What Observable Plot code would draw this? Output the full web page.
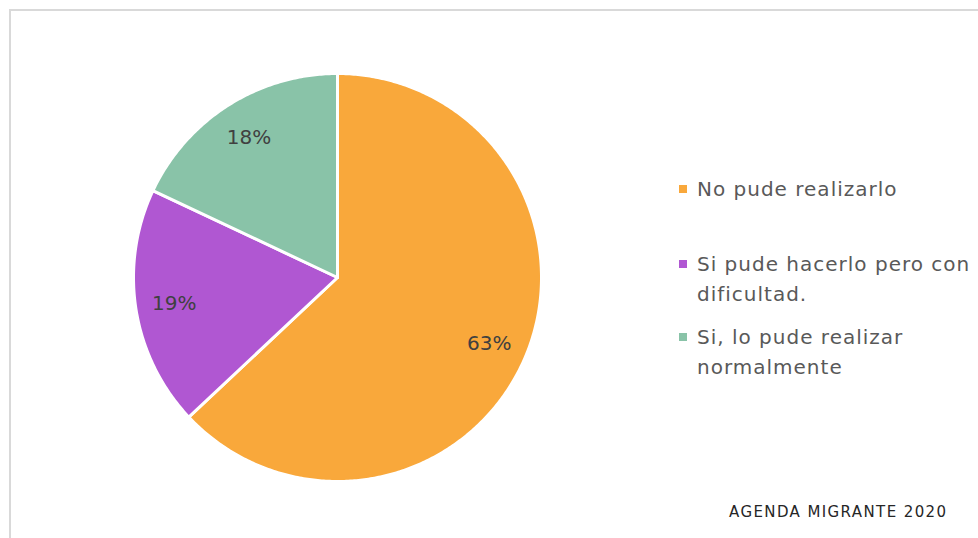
<!DOCTYPE html>
<html>
<head>
<meta charset="utf-8">
<script src="https://cdn.jsdelivr.net/npm/d3@7"></script>
<script src="https://cdn.jsdelivr.net/npm/@observablehq/plot@0.6"></script>
<style>
  html, body { margin: 0; padding: 0; background: #fff; }
  #wrap { position: relative; width: 978px; height: 538px; overflow: hidden; font-family: "DejaVu Sans", sans-serif; }
  #frame { position: absolute; left: 9px; top: 9px; width: 990px; height: 560px; border: 2px solid #d9d9d9; box-sizing: border-box; pointer-events: none; }
  #chart { position: absolute; left: 0; top: 0; }
  .legend { position: absolute; left: 679px; color: #595959; font-size: 20px; letter-spacing: 1px; line-height: 30px; }
  .item { position: absolute; left: 0; width: 300px; }
  .sw { position: absolute; left: 0; top: 11px; width: 8px; height: 8px; }
  .lbl { position: absolute; left: 18px; white-space: nowrap; }
  #source { position: absolute; left: 729px; top: 503px; font-size: 15px; color: #262626; letter-spacing: 1.4px; white-space: nowrap; }
</style>
</head>
<body>
<div id="wrap">
  <div id="chart"></div>
  <div id="legend" class="legend"></div>
  <div id="source">AGENDA MIGRANTE 2020</div>
  <div id="frame"></div>
</div>
<script>
const categories = ["No pude realizarlo", "Si pude hacerlo pero con dificultad.", "Si, lo pude realizar normalmente"];
const legendLines = [["No pude realizarlo"], ["Si pude hacerlo pero con", "dificultad."], ["Si, lo pude realizar", "normalmente"]];
const values = [63, 19, 18];
const labels = ["63%", "19%", "18%"];
const colors = ["#F9A83B", "#B057D2", "#89C3A8"];

const W = 978, H = 538, cx = 337, cy = 277, R = 204;

const arcs = d3.pie().sort(null).value(d => d)(values);

function slicePoints(a) {
  const pts = [{x: 0, y: 0}];
  const n = Math.max(4, Math.ceil((a.endAngle - a.startAngle) / 0.01));
  for (let i = 0; i <= n; i++) {
    const t = a.startAngle + (a.endAngle - a.startAngle) * i / n;
    pts.push({x: Math.sin(t), y: Math.cos(t)});
  }
  pts.push({x: 0, y: 0});
  return pts;
}

const labelData = arcs.map((a, i) => {
  const m = (a.startAngle + a.endAngle) / 2;
  return {x: 0.81 * Math.sin(m), y: 0.81 * Math.cos(m), text: labels[i]};
});

const marks = arcs.map((a, i) => Plot.line(slicePoints(a), {
  x: "x", y: "y", fill: colors[i], stroke: "white", strokeWidth: 3, strokeLinejoin: "round"
}));
marks.push(Plot.text(labelData, {
  x: "x", y: "y", text: "text", fontSize: 20, fill: "#404040", fontFamily: "DejaVu Sans, sans-serif",
  style: "letter-spacing: 1px"
}));

const chart = Plot.plot({
  width: W, height: H,
  margin: 0,
  style: {background: "transparent"},
  x: {domain: [-cx / R, (W - cx) / R], axis: null},
  y: {domain: [-(H - cy) / R, cy / R], axis: null},
  marks
});
document.getElementById("chart").appendChild(chart);

const legend = document.getElementById("legend");
const tops = [174, 249, 322];
legendLines.forEach((lines, i) => {
  const item = document.createElement("div");
  item.className = "item";
  item.style.top = tops[i] + "px";
  const sw = document.createElement("div");
  sw.className = "sw";
  sw.style.background = colors[i];
  item.appendChild(sw);
  const lb = document.createElement("div");
  lb.className = "lbl";
  lb.innerHTML = lines.join("<br>");
  item.appendChild(lb);
  legend.appendChild(item);
});
</script>
</body>
</html>
